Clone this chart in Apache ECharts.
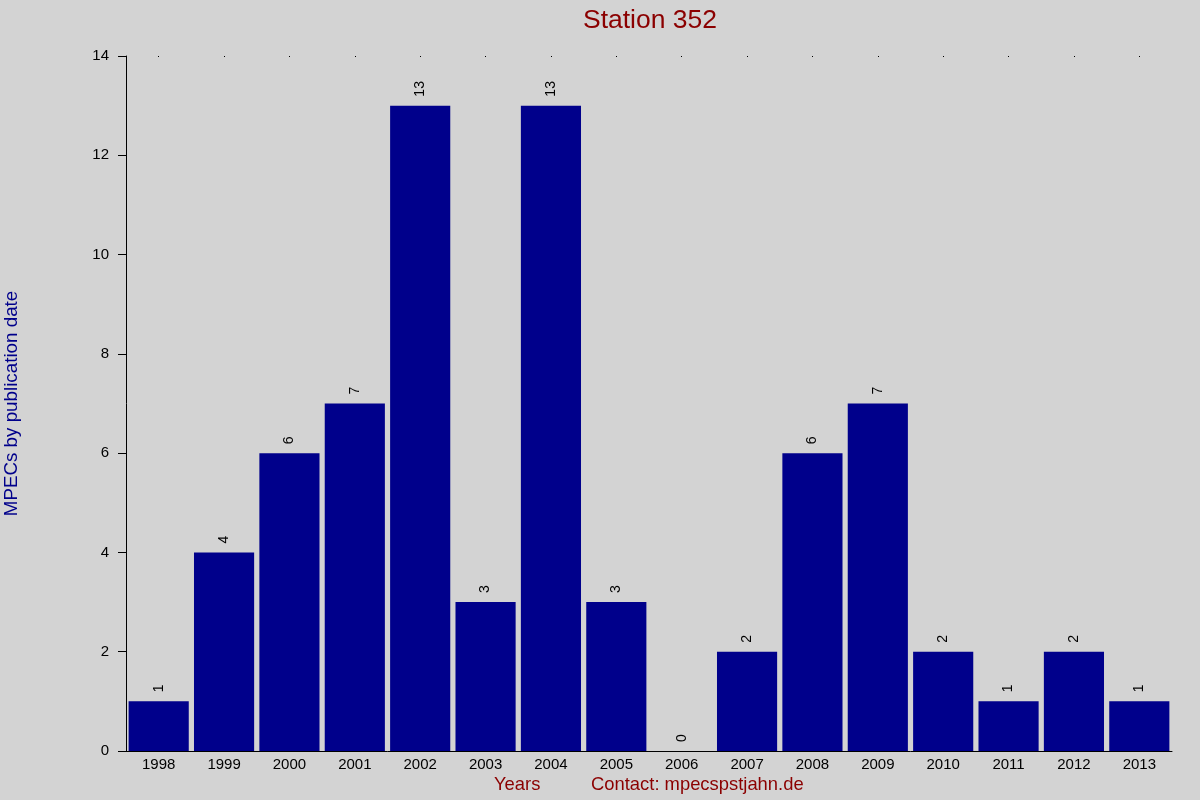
<!DOCTYPE html>
<html>
<head>
<meta charset="utf-8">
<script src="https://cdn.jsdelivr.net/npm/echarts@6/dist/echarts.min.js"></script>
<style>
  html, body { margin: 0; padding: 0; background: #d3d3d3; }
  #chart-container { width: 1200px; height: 800px; }
</style>
</head>
<body>
<div id="chart-container"></div>
<script>
var years = ['1998', '1999', '2000', '2001', '2002', '2003', '2004', '2005',
  '2006', '2007', '2008', '2009', '2010', '2011', '2012', '2013'];
var mpecs = [1, 4, 6, 7, 13, 3, 13, 3, 0, 2, 6, 7, 2, 1, 2, 1];

var dom = document.getElementById('chart-container');
var myChart = echarts.init(dom, null, {renderer: 'canvas'});

var font = 'Liberation Sans, Arial, sans-serif';

option = {
  backgroundColor: '#d3d3d3',
  animation: false,
  title: {
    text: 'Station 352',
    left: 645, top: 2, textAlign: 'center',
    textStyle: {color: '#8b0000', fontSize: 26.5, fontWeight: 'normal', fontFamily: font}
  },
  graphic: [
    {type: 'text', left: 494, top: 776,
      style: {text: 'Years', fill: '#8b0000', font: '18.4px ' + font}},
    {type: 'text', left: 591, top: 776,
      style: {text: 'Contact: mpecspstjahn.de', fill: '#8b0000', font: '18.4px ' + font}}
  ],
  grid: {left: 126, right: 28, top: 56, bottom: 49, outerBoundsMode: 'none', containLabel: false},
  xAxis: [
    {
      type: 'category', data: years, position: 'bottom',
      axisLine: {lineStyle: {color: '#000', width: 1}},
      axisTick: {show: false},
      axisLabel: {color: '#000', fontSize: 15, fontFamily: font, margin: 6}
    },
    {
      type: 'category', data: years, position: 'top',
      axisLine: {show: false},
      axisTick: {show: true, alignWithLabel: true, inside: true, length: 1, lineStyle: {color: '#000'}},
      axisLabel: {show: false}
    }
  ],
  yAxis: {
    type: 'value', min: 0, max: 14, interval: 2,
    name: 'MPECs by publication date',
    nameLocation: 'middle', nameGap: 105,
    nameTextStyle: {color: '#00008b', fontSize: 18.8, fontFamily: font},
    axisLine: {show: true, lineStyle: {color: '#000', width: 1}},
    axisTick: {show: true, length: 8, lineStyle: {color: '#000'}},
    axisLabel: {color: '#000', fontSize: 15, fontFamily: font, margin: 17},
    splitLine: {show: false}
  },
  series: [
    {
      type: 'bar', data: mpecs, xAxisIndex: 0,
      barCategoryGap: '8%',
      itemStyle: {color: '#00008b'},
      label: {
        show: true, position: 'top', rotate: 90, distance: 9,
        align: 'left', verticalAlign: 'middle',
        color: '#000', fontSize: 14, fontFamily: font
      }
    }
  ]
};

myChart.setOption(option);
window.addEventListener('resize', myChart.resize);
</script>
</body>
</html>
